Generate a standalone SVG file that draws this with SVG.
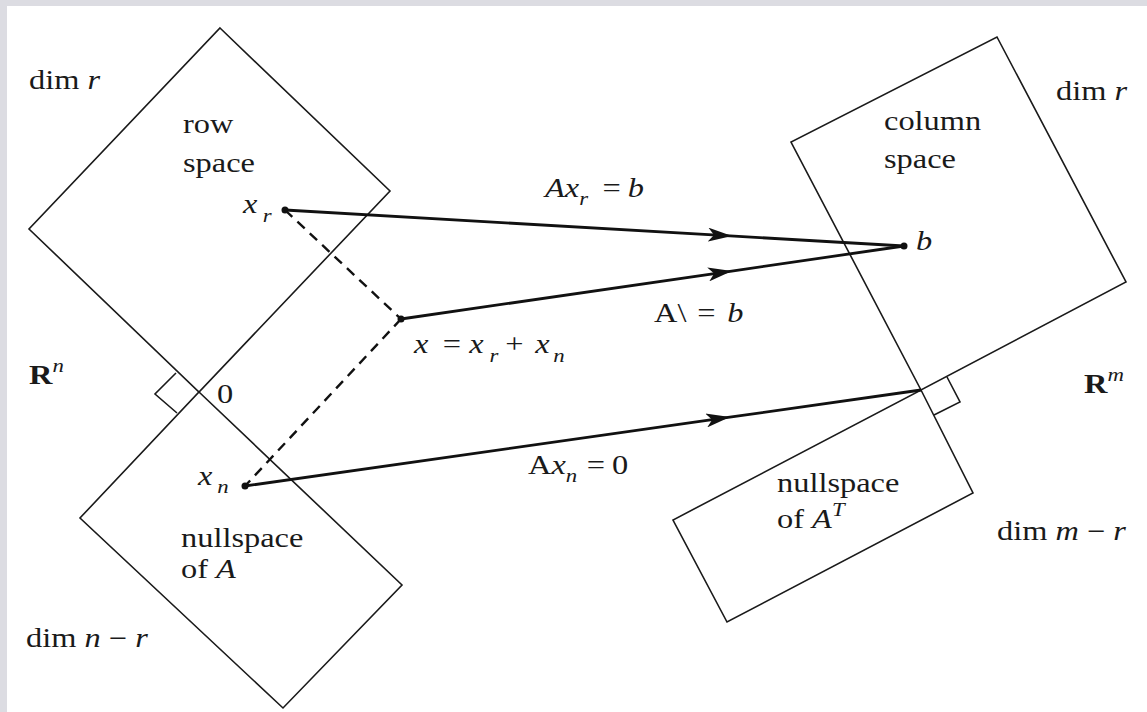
<svg xmlns="http://www.w3.org/2000/svg" width="1147" height="712" viewBox="0 0 1147 712">
<style>
.bg{fill:#dcdce2}
.paper{fill:#ffffff}
.box{fill:none;stroke:#1a1a1a;stroke-width:1.6;stroke-linejoin:miter}
.ra{fill:none;stroke:#1a1a1a;stroke-width:1.6}
.arrow{fill:none;stroke:#111;stroke-width:2.8;marker-mid:url(#ah)}
.dash{fill:none;stroke:#111;stroke-width:2.4;stroke-dasharray:10 7}
.dot{fill:#111}
text{font-family:"Liberation Serif","Times New Roman",serif;font-size:27px;fill:#1a1a1a}
.it{font-style:italic}
.bd{font-weight:bold}
.sub{font-size:19px;font-style:italic}
</style>
<defs>
<marker id="ah" viewBox="0 0 24 14" refX="22" refY="7" markerWidth="24" markerHeight="14" markerUnits="userSpaceOnUse" orient="auto">
<path d="M0,0 L24,7 L0,14 L6,7 z" fill="#111"/>
</marker>
</defs>
<rect class="bg" x="0" y="0" width="1147" height="712"/>
<rect class="paper" x="7" y="6" width="1140" height="706"/>

<g id="row-space">
<polygon class="box" points="220,28 390,191 199,392 29,229"/>
<text transform="translate(183,133) scale(1.2,1)">row</text>
<text transform="translate(183,172) scale(1.2,1)">space</text>
</g>

<g id="nullspace-A">
<polygon class="box" points="199,392 402,585 283,708 80,518"/>
<polyline class="ra" points="176,373 155,394 177,413"/>
<text transform="translate(181,547) scale(1.2,1)">nullspace</text>
<text transform="translate(181,578) scale(1.2,1)">of <tspan class="it">A</tspan></text>
</g>

<g id="column-space">
<polygon class="box" points="997,37 1126,282 921,390 791,142"/>
<text transform="translate(884,130) scale(1.2,1)">column</text>
<text transform="translate(884,168) scale(1.2,1)">space</text>
</g>

<g id="nullspace-AT">
<polygon class="box" points="921,390 973,493 727,622 673,520"/>
<polyline class="ra" points="947,377 960,402 934,415"/>
<text transform="translate(777,492) scale(1.2,1)">nullspace</text>
<text transform="translate(777,528) scale(1.2,1)">of <tspan class="it">A</tspan><tspan class="sub" dy="-12">T</tspan></text>
</g>

<g id="labels">
<text transform="translate(29,89) scale(1.2,1)">dim <tspan class="it">r</tspan></text>
<text transform="translate(1056,100) scale(1.2,1)">dim <tspan class="it">r</tspan></text>
<text transform="translate(26,647) scale(1.2,1)">dim <tspan class="it">n</tspan> − <tspan class="it">r</tspan></text>
<text transform="translate(997,540) scale(1.2,1)">dim <tspan class="it">m</tspan> − <tspan class="it">r</tspan></text>
<text transform="translate(29,384) scale(1.2,1)"><tspan class="bd">R</tspan><tspan class="sub" dy="-12">n</tspan></text>
<text transform="translate(1084,393) scale(1.2,1)"><tspan class="bd">R</tspan><tspan class="sub" dy="-12">m</tspan></text>
<text transform="translate(217,403) scale(1.2,1)">0</text>
</g>

<g id="point-xr">
<circle class="dot" cx="285" cy="210" r="3.5"/>
<text transform="translate(243,213) scale(1.2,1)"><tspan class="it">x</tspan><tspan class="sub" x="16.5" dy="9">r</tspan></text>
</g>
<g id="point-x">
<circle class="dot" cx="401" cy="319" r="3.5"/>
<text transform="translate(414,353) scale(1.2,1)"><tspan class="it">x</tspan><tspan x="24">=</tspan><tspan class="it" x="46">x</tspan><tspan class="sub" x="63" dy="9">r</tspan><tspan x="76" dy="-9">+</tspan><tspan class="it" x="101">x</tspan><tspan class="sub" x="116" dy="9">n</tspan></text>
</g>
<g id="point-xn">
<circle class="dot" cx="245" cy="486" r="3.5"/>
<text transform="translate(198,485) scale(1.2,1)"><tspan class="it">x</tspan><tspan class="sub" x="16" dy="8">n</tspan></text>
</g>
<g id="point-b">
<circle class="dot" cx="904" cy="246" r="3.5"/>
<text class="it" transform="translate(916,250) scale(1.2,1)">b</text>
</g>

<g id="connectors">
<path class="dash" d="M285,210 L401,319"/>
<path class="dash" d="M401,319 L245,486"/>
<path class="arrow" d="M285,210 L730,235.9 L904,246"/>
<path class="arrow" d="M401,319 L730,271.3 L904,246"/>
<path class="arrow" d="M245,486 L728,417.4 L921,390"/>
<text transform="translate(545,197) scale(1.2,1)"><tspan class="it">Ax</tspan><tspan class="sub" dy="8">r</tspan><tspan x="48" dy="-8">=</tspan><tspan class="it" x="69">b</tspan></text>
<text transform="translate(654,322) scale(1.2,1)">A\<tspan x="36">=</tspan><tspan class="it" x="61">b</tspan></text>
<text transform="translate(528,474) scale(1.2,1)">A<tspan class="it">x</tspan><tspan class="sub" dy="8">n</tspan><tspan x="49" dy="-8">=</tspan><tspan x="70">0</tspan></text>
</g>
</svg>
